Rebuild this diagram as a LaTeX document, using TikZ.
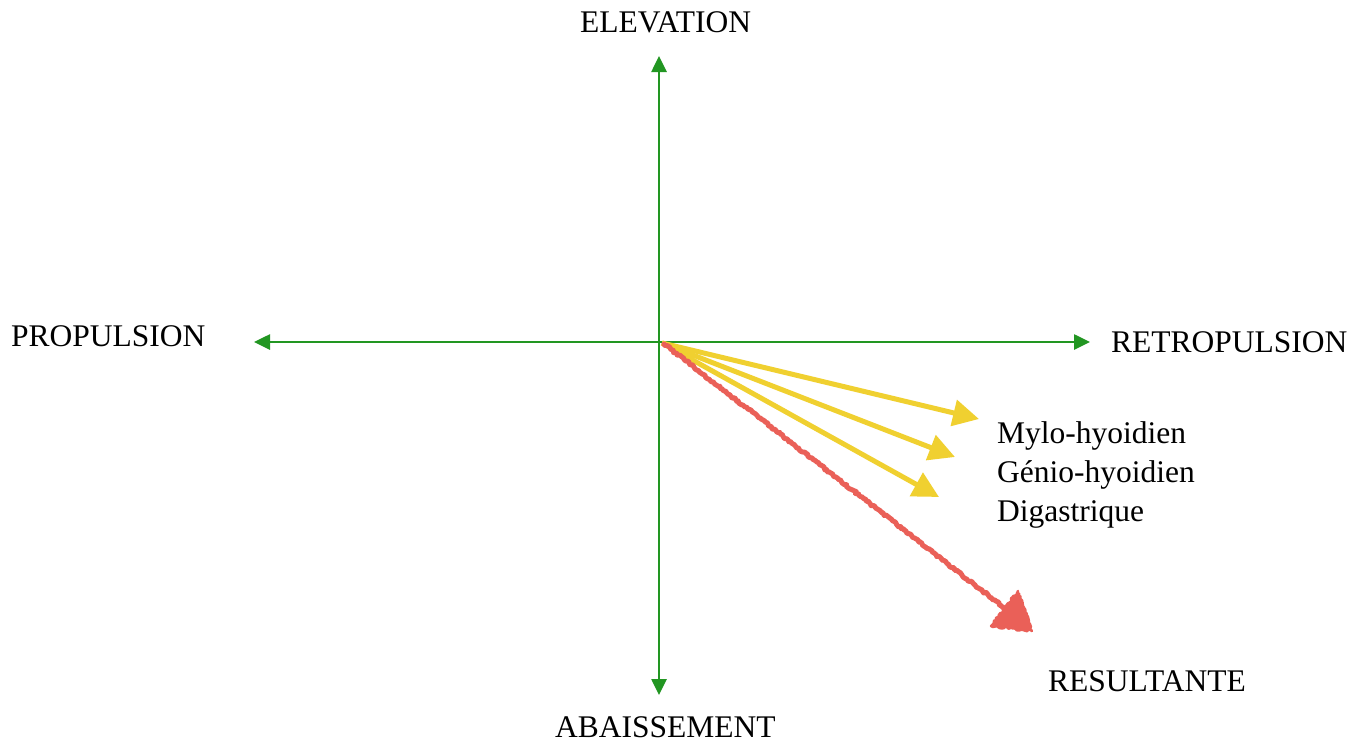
\documentclass[tikz,border=0pt]{standalone}
\usepackage{fontspec}
\setmainfont{Liberation Serif}
\usetikzlibrary{arrows.meta,decorations.pathmorphing}
\definecolor{axisgreen}{RGB}{34,150,34}
\definecolor{muscleyellow}{RGB}{240,208,48}
\definecolor{resred}{RGB}{234,96,88}
\tikzset{
  axis/.style={draw=axisgreen,line width=2.6pt,{Triangle[length=16pt,width=15pt]}-{Triangle[length=16pt,width=15pt]}},
  muscle/.style={draw=muscleyellow,line width=5pt,-{Triangle[length=26pt,width=26pt]}},
  rough/.style={decorate,decoration={random steps,segment length=1.8pt,amplitude=1.1pt}},
  resline/.style={draw=resred,line width=5pt,rough,line join=round,line cap=round},
  reshead/.style={draw=resred,fill=resred,line width=2.5pt,rough,line join=round},
  lbl/.style={inner sep=0pt,anchor=base west,font=\fontsize{31.5}{39}\selectfont}
}
\begin{document}
\begin{tikzpicture}[x=1pt,y=-1pt]
\useasboundingbox[fill=white] (0,0) rectangle (1366,745);
% axis ends
\coordinate (O) at (659,342);
\coordinate (up) at (659,56);
\coordinate (down) at (659,695);
\coordinate (left) at (254,342);
\coordinate (right) at (1090,342);
\draw[axis] (down) -- (up);
\draw[axis] (left) -- (right);
% muscle arrows
\coordinate (M) at (662,343);
\coordinate (mylo) at (979,419);
\coordinate (genio) at (955,457);
\coordinate (digas) at (939,497);
\draw[muscle] (M) -- (mylo);
\draw[muscle] (M) -- (genio);
\draw[muscle] (M) -- (digas);
% resultant
\coordinate (R0) at (664,344);
\coordinate (Rb) at (1006,609);
\draw[resline] (R0) -- (Rb);
\path[reshead] (1018,591) -- (991,626) -- (1032,631) -- cycle;
% labels
\node[lbl] (elev) at (580,32) {ELEVATION};
\node[lbl] (abai) at (555,737) {ABAISSEMENT};
\node[lbl] (prop) at (11,346) {PROPULSION};
\node[lbl] (retro) at (1111,352) {RETROPULSION};
\node[lbl] (mylot) at (997,443) {Mylo-hyoidien};
\node[lbl] (geniot) at (997,482) {Génio-hyoidien};
\node[lbl] (digt) at (997,521) {Digastrique};
\node[lbl] (res) at (1048,691) {RESULTANTE};
\end{tikzpicture}
\end{document}
